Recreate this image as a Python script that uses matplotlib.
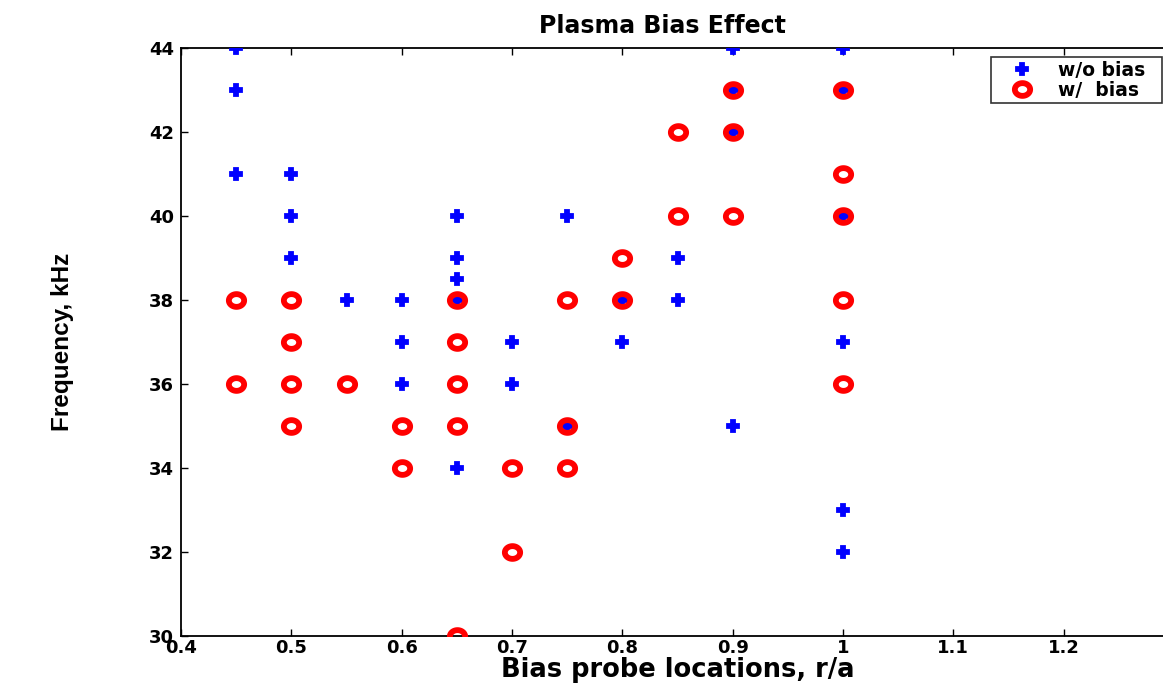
import matplotlib
matplotlib.use('Agg')
import matplotlib.pyplot as plt
import numpy as np
from matplotlib.path import Path

# ---- data ----
# w/o bias (blue pluses)
x_nobias = [0.45, 0.45, 0.45,
            0.5, 0.5, 0.5,
            0.55,
            0.6, 0.6, 0.6,
            0.65, 0.65, 0.65, 0.65, 0.65,
            0.7, 0.7,
            0.75, 0.75,
            0.8, 0.8,
            0.85, 0.85,
            0.9, 0.9, 0.9, 0.9,
            1.0, 1.0, 1.0, 1.0, 1.0, 1.0]
f_nobias = [44, 43, 41,
            41, 40, 39,
            38,
            38, 37, 36,
            40, 39, 38.5, 38, 34,
            37, 36,
            40, 35,
            38, 37,
            39, 38,
            44, 43, 42, 35,
            44, 43, 40, 37, 33, 32]

# w/ bias (red rings)
x_bias = [0.45, 0.45,
          0.5, 0.5, 0.5, 0.5,
          0.55,
          0.6, 0.6,
          0.65, 0.65, 0.65, 0.65, 0.65,
          0.7, 0.7,
          0.75, 0.75, 0.75,
          0.8, 0.8,
          0.85, 0.85,
          0.9, 0.9, 0.9,
          1.0, 1.0, 1.0, 1.0, 1.0]
f_bias = [38, 36,
          38, 37, 36, 35,
          36,
          35, 34,
          38, 37, 36, 35, 30,
          34, 32,
          38, 35, 34,
          39, 38,
          42, 40,
          43, 42, 40,
          43, 41, 40, 38, 36]

xticks = [0.4, 0.5, 0.6, 0.7, 0.8, 0.9, 1.0, 1.1, 1.2, 1.3]
xticklabels = ['0.4', '0.5', '0.6', '0.7', '0.8', '0.9', '1', '1.1', '1.2', '1']
yticks = [30, 32, 34, 36, 38, 40, 42, 44]

# wide bold face, the original text looks stretched sideways
plt.rcParams['font.family'] = ['DejaVu Sans']
plt.rcParams['font.weight'] = 'bold'

# markers are a little elliptical in the original too
t = np.linspace(0, 2 * np.pi, 60)
ell = Path(np.column_stack([1.2 * np.cos(t), np.sin(t)]), closed=True)

fig = plt.figure(figsize=(11.63, 6.89), dpi=100)
ax = fig.add_axes([181 / 1163, 53 / 689, 993 / 1163, 588 / 689])

ax.plot(x_nobias, f_nobias, ls='none', marker='P', ms=9, color='blue',
        mec='blue', mew=1.3, label='w/o bias  ', zorder=3)
ax.plot(x_bias, f_bias, ls='none', marker=ell, ms=11, mfc='none', mec='red',
        mew=4.2, label='w/  bias  ', zorder=4)

ax.set_xlim(0.4, 1.3)
ax.set_ylim(30, 44)
ax.set_xticks(xticks)
ax.set_xticklabels(xticklabels)
ax.set_yticks(yticks)
ax.tick_params(direction='in', length=5, width=1, labelsize=13, top=True,
               right=True)
ax.tick_params(axis='x', pad=2)
ax.tick_params(axis='y', pad=5)
for lab in ax.get_xticklabels() + ax.get_yticklabels():
    lab.set_fontweight('bold')
for s in ax.spines.values():
    s.set_linewidth(1.3)

ax.text(662 / 1163, 1 - 26 / 689, 'Plasma Bias Effect', transform=fig.transFigure,
        ha='center', va='center', fontsize=17, fontweight='bold')
ax.set_xlabel('Bias probe locations, r/a', fontsize=18.5, fontweight='bold',
              labelpad=0)
ax.set_ylabel('Frequency, kHz', fontsize=17.5, fontweight='bold',
              family='Liberation Sans')
ax.yaxis.set_label_coords(-0.108, 0.5)

leg = ax.legend(loc='upper right', bbox_to_anchor=(1162 / 1163, 1 - 57 / 689),
                bbox_transform=fig.transFigure, fontsize=13.5, frameon=True,
                fancybox=False, edgecolor='black', borderpad=0.2,
                handlelength=3.0, handletextpad=0.4, labelspacing=0.05,
                borderaxespad=0)
leg.get_frame().set_linewidth(1.2)
for txt in leg.get_texts():
    txt.set_fontweight('bold')

fig.savefig('out.png', dpi=100)
